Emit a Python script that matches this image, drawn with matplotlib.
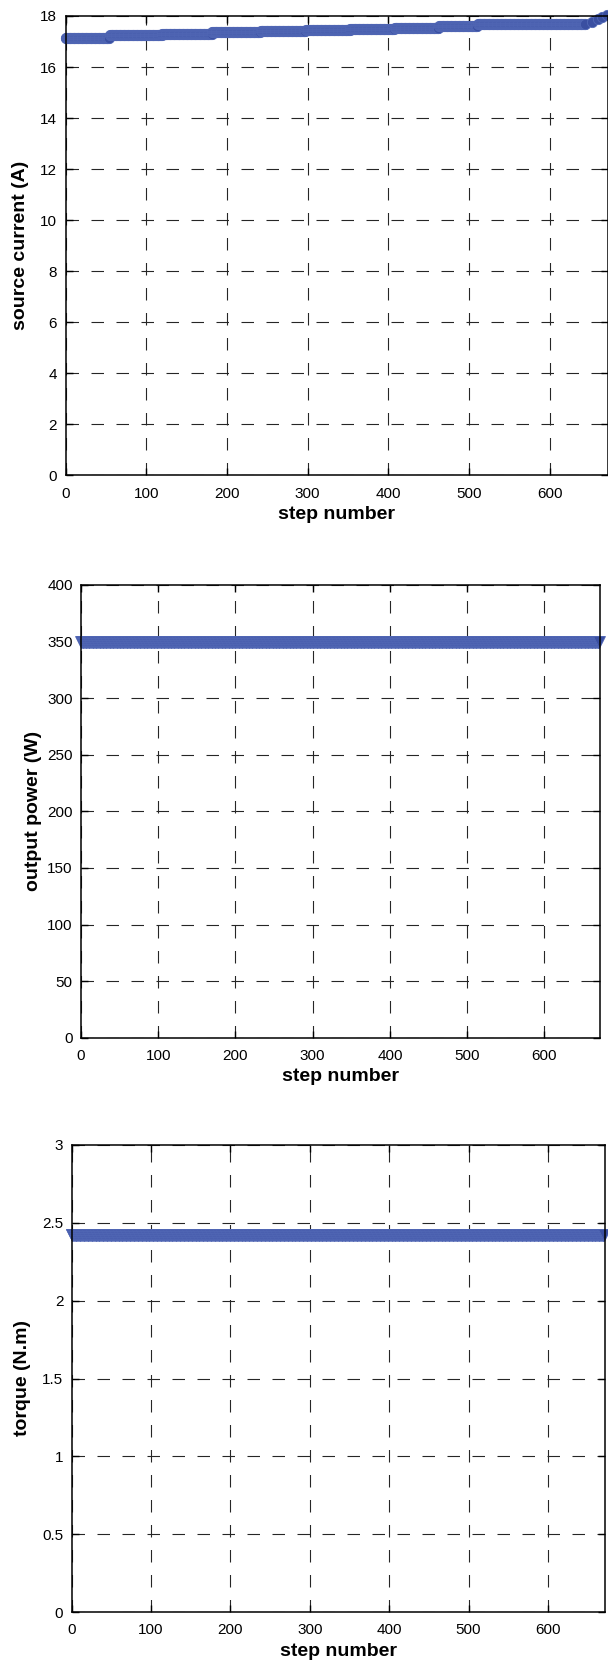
import numpy as np
import matplotlib
matplotlib.use('Agg')
import matplotlib.pyplot as plt

plt.rcParams['font.family'] = ['Liberation Sans', 'DejaVu Sans']
plt.rcParams['lines.scale_dashes'] = False

# source current: flat levels between step edges, then a short rise at the end
current_edges = [0, 55, 120, 182, 242, 298, 353, 408, 463, 511, 645]
current_levels = [17.14, 17.24, 17.31, 17.36, 17.41, 17.45, 17.49, 17.54, 17.60, 17.67]
ramp_steps = [652, 659, 665, 671]
ramp_current = [17.78, 17.88, 17.97, 18.05]

n_steps = 672
power_level = 350.0
torque_level = 2.42

x_ticks = [0, 100, 200, 300, 400, 500, 600]
current_ticks = [0, 2, 4, 6, 8, 10, 12, 14, 16, 18]
power_ticks = [0, 50, 100, 150, 200, 250, 300, 350, 400]
torque_ticks = [0, 0.5, 1, 1.5, 2, 2.5, 3]
torque_ticklabels = ['0', '0.5', '1', '1.5', '2', '2.5', '3']

steps_cur = np.concatenate([np.arange(current_edges[-1]), ramp_steps])
current = np.concatenate([np.repeat(current_levels, np.diff(current_edges)), ramp_current])
steps = np.arange(n_steps)
power = np.full(n_steps, power_level)
torque = np.full(n_steps, torque_level)

W, H = 608, 1661
fig = plt.figure(figsize=(W / 100, H / 100), dpi=100)


def add_ax(left, right, top, bottom):
    return fig.add_axes([left / W, 1 - bottom / H, (right - left) / W, (bottom - top) / H])


BLUE = '#3a4fa1'
EDGE = '#5268b6'


def style(ax, yticks, ylim, ylabel, label_px, left_px, width_px, yticklabels=None):
    ax.set_xlim(0, n_steps)
    ax.set_ylim(*ylim)
    ax.set_xticks(x_ticks)
    ax.set_yticks(yticks)
    if yticklabels is not None:
        ax.set_yticklabels(yticklabels)
    ax.tick_params(direction='in', top=True, right=True, length=5, width=1,
                   labelsize=11, pad=6, colors='black')
    ax.tick_params(axis='x', pad=8)
    ax.grid(True, color='0.15', linestyle=(0, (9, 9)), linewidth=0.8)
    for s in ax.spines.values():
        s.set_linewidth(1.1)
    ax.set_xlabel('step number', fontsize=14, fontweight='bold', labelpad=4)
    ax.set_ylabel(ylabel, fontsize=14, fontweight='bold')
    ax.yaxis.set_label_coords((label_px - left_px) / width_px, 0.5)


ax1 = add_ax(65.5, 608, 16, 475.5)
ax1.plot(steps_cur, current, color=BLUE, lw=1, marker='o', ms=7.4,
         mfc=BLUE, mec=EDGE, mew=0.6, clip_on=False)
style(ax1, current_ticks, (0, 18), 'source current (A)', 29, 65.5, 542.5)

ax2 = add_ax(81, 600, 585, 1037.7)
ax2.plot(steps, power, color=BLUE, lw=1, marker='v', ms=8.4,
         mfc=BLUE, mec=EDGE, mew=0.6, clip_on=False)
style(ax2, power_ticks, (0, 400), 'output power (W)', 42, 81, 519)

ax3 = add_ax(71.7, 605, 1145, 1612)
ax3.plot(steps, torque, color=BLUE, lw=1, marker='v', ms=8.0,
         mfc=BLUE, mec=EDGE, mew=0.6, clip_on=False)
style(ax3, torque_ticks, (0, 3), 'torque (N.m)', 31, 71.7, 533.3, torque_ticklabels)

fig.savefig('out.png', dpi=100)
